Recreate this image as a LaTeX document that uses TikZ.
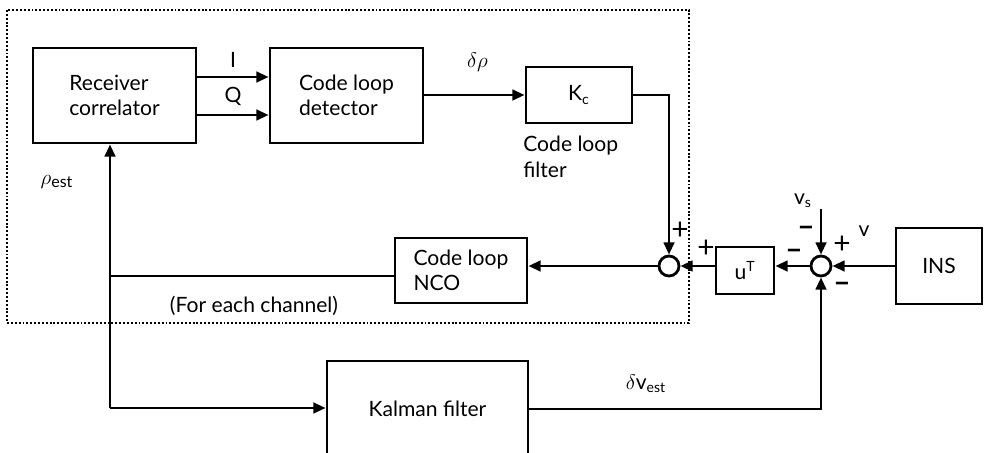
\documentclass[tikz,border=0pt]{standalone}
\usepackage{fontspec}
\setmainfont{Lato}
\usetikzlibrary{arrows.meta, positioning, calc}
\tikzset{
  blockbox/.style={
    rectangle, draw=black, line width=1.6pt,
    align=left, fill=white, inner sep=4pt
  },
  sumnode/.style={
    circle, draw=black, line width=1.6pt,
    minimum size=0.4cm, inner sep=0pt, fill=white
  },
  sig/.style={line width=1.6pt},
  arrow/.style={
    -{Triangle[length=7pt, width=6pt]},
    line width=1.6pt
  },
  signlbl/.style={font=\fontsize{17}{19}\selectfont, inner sep=0pt}
}
\newcommand{\minussign}{{\bfseries\textendash}}

\begin{document}
\begin{tikzpicture}[x=0.02cm, y=-0.02cm, font=\fontsize{12}{14.5}\selectfont]

\useasboundingbox (0,0) rectangle (988,453);
\clip (0,0) rectangle (988,453);

% ── Blocks inside the channel loop ────────────────────────────────────────────

\node[blockbox, minimum width=3.26cm, minimum height=1.9cm] (rc) at (114.5,95.5) {Receiver\\correlator};
\node[blockbox, minimum width=3.06cm, minimum height=1.9cm] (cld) at (346.5,95.5) {Code loop\\detector};
\node[blockbox, align=center, minimum width=2.12cm, minimum height=1.12cm] (kc) at (579,95) {K\textsubscript{c}};
\node[blockbox, minimum width=2.64cm, minimum height=1.3cm] (nco) at (461,270.5) {Code loop\\NCO};
\node[sumnode] (sum1) at (669,266) {};

% ── Blocks outside ────────────────────────────────────────────────────────────

\node[blockbox, align=center, minimum width=1.16cm, minimum height=0.94cm] (ut) at (745,270.5) {u\textsuperscript{T}};
\node[sumnode] (sum2) at (821,266) {};
\node[blockbox, align=center, minimum width=1.72cm, minimum height=1.52cm] (ins) at (939,266) {INS};
\node[blockbox, align=center, minimum width=4.02cm, minimum height=1.92cm] (kf) at (427.5,409) {Kalman filter};

% ── Helper coordinates ────────────────────────────────────────────────────────

\coordinate (jn) at (110,276);
\coordinate (jk) at (110,408);
\coordinate (vs) at (821,209);

% ── Signal paths ──────────────────────────────────────────────────────────────

\draw[arrow] (rc.east |- 0,77) -- node[above=1pt] {I} (cld.west |- 0,77);
\draw[arrow] (rc.east |- 0,115) -- node[above=1pt] {Q} (cld.west |- 0,115);
\draw[arrow] (cld.east |- 0,95) -- node[above=9pt, pos=0.53] {$\delta\rho$} (kc.west |- 0,95);
\draw[arrow] (kc.east) -| (sum1.north);
\draw[arrow] (ut.west |- sum1) -- (sum1.east);
\draw[arrow] (sum1.west) -- (nco.east |- sum1);
\draw[sig] (nco.west |- jn) -- (jn);
\draw[arrow] (jk) -- (jk |- rc.south);
\draw[arrow] (jk) -- (kf.west |- jk);
\draw[arrow] (kf.east) -| node[pos=0.2, above=5pt] {$\delta$v\textsubscript{est}} (sum2.south);
\draw[arrow] (ins.west |- sum2) -- (sum2.east);
\draw[arrow] (vs) -- (sum2.north);
\draw[arrow] (sum2.west) -- (ut.east |- sum2);

% ── Signs and labels ──────────────────────────────────────────────────────────

\node[signlbl] (p1) at (680,231) {+};
\node[signlbl] (p2) at (706,249) {+};
\node[signlbl] (m1) at (806,231) {\minussign};
\node[signlbl] (m2) at (794,254) {\minussign};
\node[signlbl] (p3) at (842,245) {+};
\node[signlbl] (m3) at (842,287) {\minussign};
\node[inner sep=1pt] (vslbl) at (803,201) {v\textsubscript{s}};
\node[inner sep=1pt] (vlbl) at (864,231) {v};
\node[font=\fontsize{13}{15}\selectfont] (rholbl) at (57,182) {$\rho$\textsubscript{est}};
\node[anchor=north west, align=left, inner sep=0pt] (clf) at (523,136) {Code loop\\filter};
\node (chan) at (254,306) {(For each channel)};

% ── Channel boundary ──────────────────────────────────────────────────────────

\draw[line width=1.6pt, dash pattern=on 1.1pt off 1.1pt] (7,10) rectangle (689,323);

\end{tikzpicture}
\end{document}
